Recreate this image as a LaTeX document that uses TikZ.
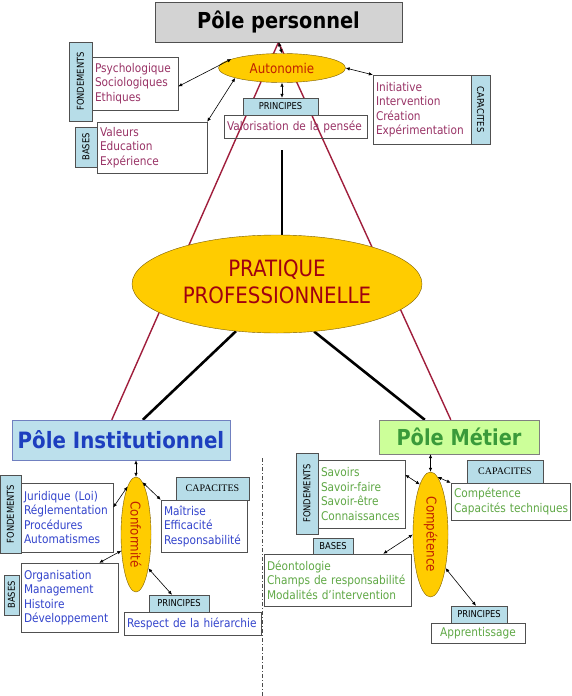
\documentclass[tikz,border=0pt]{standalone}
\usepackage{fontspec}
\setmainfont{DejaVu Sans}[FakeStretch=0.88]
\newfontfamily\seriff{Liberation Serif}
\usetikzlibrary{shapes.geometric,arrows.meta,calc,backgrounds}
\definecolor{labblue}{HTML}{B7DDE8}
\definecolor{gold}{HTML}{FFCC00}
\definecolor{ellbord}{HTML}{7A5C00}
\definecolor{boxbord}{HTML}{505050}
\definecolor{maroon}{HTML}{993366}
\definecolor{btext}{HTML}{3344CC}
\definecolor{gtext}{HTML}{5FA845}
\definecolor{redline}{HTML}{A01E3C}
\definecolor{ellred}{HTML}{C02000}
\definecolor{pracred}{HTML}{A00010}
\definecolor{pigray}{HTML}{D3D3D3}
\definecolor{piblue}{HTML}{BCE0EC}
\definecolor{piblueb}{HTML}{7080C0}
\definecolor{pititle}{HTML}{1D3FBF}
\definecolor{pmgreen}{HTML}{CCFF99}
\definecolor{pmtitle}{HTML}{3A9A3A}
\begin{document}
\begin{tikzpicture}[x=1pt,y=-1pt,
  tb/.style={draw=boxbord, fill=white, rectangle, inner xsep=3pt, inner ysep=0pt, align=left, font=\fontsize{12}{14.5}\selectfont},
  lab/.style={draw=boxbord, fill=labblue, rectangle, inner sep=0pt, font=\fontsize{9.5}{10}\selectfont},
  ell/.style={ellipse, draw=ellbord, fill=gold, inner sep=0pt},
  ellt/.style={text=ellred, font=\fontsize{13.5}{14}\selectfont},
  dar/.style={{Latex[length=4pt,width=3.5pt]}-{Latex[length=4pt,width=3.5pt]}, line width=0.6pt},
  redl/.style={draw=redline, line width=1.4pt},
  blk/.style={draw=black, line width=2.6pt},
  title/.style={rectangle, font=\bfseries\fontsize{22}{26}\selectfont}
]
\useasboundingbox (0,0) rectangle (572,696);

% ---------- top : Pole personnel ----------
\node[title, draw=boxbord, fill=pigray, minimum width=247pt, minimum height=40pt] (PP) at (278.5,22) {Pôle personnel};
\node[ell, minimum width=127pt, minimum height=29pt] (auto) at (282,68) {};
\node[ellt] at (auto) {Autonomie};

\node[lab, rotate=90, minimum width=79pt, minimum height=23pt] (f1l) at (80.5,81.5) {FONDEMENTS};
\node[tb, text=maroon, text width=80pt, minimum height=53pt] (f1t) at (135,83.5) {Psychologique\\Sociologiques\\Ethiques};
\node[lab, rotate=90, minimum width=40pt, minimum height=22pt] (b1l) at (86,147) {BASES};
\node[tb, text=maroon, text width=104pt, minimum height=51pt] (b1t) at (152,147.5) {Valeurs\\Education\\Expérience};
\node[tb, fill=none, text=maroon, text width=137pt, minimum height=23pt] (v1t) at (295.5,126.5) {Valorisation de la pensée};
\node[lab, minimum width=75pt, minimum height=17pt] (p1) at (280.5,106.5) {PRINCIPES};
\node[tb, text=maroon, text width=92pt, minimum height=69pt] (c1t) at (422,109.5) {Initiative\\Intervention\\Création\\Expérimentation};
\node[lab, rotate=-90, minimum width=69pt, minimum height=19pt] (c1l) at (480.5,109.5) {CAPACITES};

% ---------- centre ----------
\node[ell, minimum width=290pt, minimum height=98pt] (PRAT) at (277,284) {};
\node[text=pracred, align=center, font=\fontsize{22.5}{27}\selectfont] at (277,282) {PRATIQUE\\PROFESSIONNELLE};

% ---------- Pole institutionnel ----------
\node[title, draw=piblueb, fill=piblue, text=pititle, minimum width=218pt, minimum height=40pt, font=\bfseries\fontsize{22.5}{26}\selectfont] (PI) at (121,440) {Pôle Institutionnel};
\node[ell, minimum width=30pt, minimum height=115pt] (conf) at (136,534.5) {};
\node[ellt, rotate=-90] at (conf) {Conformité};
\node[lab, rotate=90, minimum width=78pt, minimum height=21pt] (f2l) at (10.5,514) {FONDEMENTS};
\node[tb, text=btext, text width=86pt, minimum height=69pt] (f2t) at (67,517.5) {Juridique (Loi)\\Réglementation\\Procédures\\Automatismes};
\node[lab, font=\seriff\fontsize{10}{11}\selectfont, minimum width=73pt, minimum height=23pt] (c2l) at (212.5,488.5) {CAPACITES};
\node[tb, text=btext, text width=80pt, minimum height=52pt] (c2t) at (204,526) {Maîtrise\\Efficacité\\Responsabilité};
\node[lab, rotate=90, minimum width=40pt, minimum height=15pt] (b2l) at (11.5,595) {BASES};
\node[tb, text=btext, text width=91pt, minimum height=69pt] (b2t) at (69.5,597.5) {Organisation\\Management\\Histoire\\Développement};
\node[lab, minimum width=60pt, minimum height=17pt] (p2) at (179,603.5) {PRINCIPES};
\node[tb, text=btext, text width=131pt, minimum height=23pt] (p2t) at (192.5,623.5) {Respect de la hiérarchie};

% ---------- Pole metier ----------
\node[title, draw=gray, fill=pmgreen, text=pmtitle, minimum width=160pt, minimum height=34pt] (PM) at (459,437) {Pôle Métier};
\node[ell, minimum width=35pt, minimum height=125pt] (comp) at (430.5,534.5) {};
\node[ellt, rotate=-90] at (comp) {Compétence};
\node[lab, rotate=90, minimum width=81pt, minimum height=22pt] (f3l) at (307,493.5) {FONDEMENTS};
\node[tb, text=gtext, text width=81pt, minimum height=68pt] (f3t) at (361.5,494) {Savoirs\\Savoir-faire\\Savoir-être\\Connaissances};
\node[lab, font=\seriff\fontsize{10}{11}\selectfont, minimum width=76pt, minimum height=23pt] (c3l) at (505,471.5) {CAPACITES};
\node[tb, text=gtext, inner xsep=1.5pt, text width=116pt, minimum height=37pt] (c3t) at (510.5,501.5) {\hspace{1.5pt}Compétence\\\hspace{1.5pt}Capacités techniques};
\node[lab, minimum width=40pt, minimum height=16pt] (b3l) at (333,546) {BASES};
\node[tb, text=gtext, text width=141pt, minimum height=52pt] (b3t) at (337.5,580) {Déontologie\\Champs de responsabilité\\Modalités d'intervention};
\node[lab, minimum width=56pt, minimum height=17pt] (p3) at (479,614.5) {PRINCIPES};
\node[tb, text=gtext, text width=88pt, minimum height=20pt] (p3t) at (478,633) {\hfill Apprentissage\hfill\null};

% ---------- lines behind ----------
\coordinate (vtop) at (282,150);
\coordinate (dl1) at (262,458);
\coordinate (dl2) at (262,696);
\begin{scope}[on background layer]
  \fill[white] (0,0) rectangle (572,696);
  \draw[redl] (PP.south) -- ($(PI.north west)+(100,0)$);
  \draw[redl] (PP.south) -- ($(PM.north west)+(72,0)$);
  \draw[redl] ($(PI.east)+(0,6)$) -- ($(PI.east)+(0,6)$ -| PM.west);
  \draw[blk] (vtop) -- (vtop |- PRAT.north);
  \draw[blk] (PRAT.229) -- ($(PI.north west)+(131,0)$);
  \draw[blk] (PRAT.308) -- ($(PM.north west)+(46,0)$);
  \draw[draw=gray!60!black, line width=0.7pt, dash pattern=on 4pt off 2pt on 1pt off 2pt] (dl1) -- (dl2);
\end{scope}

% ---------- double arrows ----------
\draw[dar] (PP.south) -- (auto.north);
\draw[dar] ($(f1t.east)+(0,3)$) -- (auto.170);
\draw[dar] (b1t.north east) -- (auto.192);
\draw[dar] (auto.south) -- (auto.south |- p1.north);
\draw[dar] (auto.east) -- (c1t.north west);

\draw[dar] (conf.north |- PI.south) -- (conf.north);
\draw[dar] ($(f2t.east)+(0,-10)$) -- (conf.100);
\draw[dar] (conf.83) -- (c2t.north west);
\draw[dar] (conf.228) -- ($(b2t.north east)+(-19,0)$);
\draw[dar] (conf.290) -- ($(p2.north)+(-7,0)$);

\draw[dar] (comp.north |- PM.south) -- (comp.north);
\draw[dar] ($(f3t.north east)+(0,15)$) -- (comp.102);
\draw[dar] (comp.83) -- (c3t.north west);
\draw[dar] (comp.west) -- ($(b3t.north east)+(-28,0)$);
\draw[dar] (comp.294) -- ($(p3.north)+(-3,0)$);
\end{tikzpicture}
\end{document}
